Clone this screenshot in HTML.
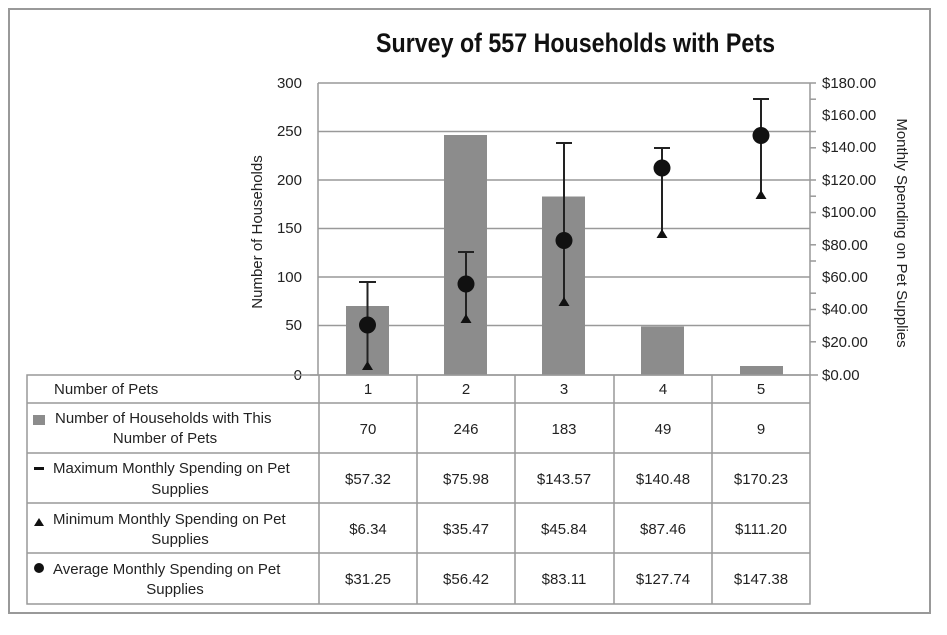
<!DOCTYPE html>
<html><head><meta charset="utf-8"><style>
body{margin:0;background:#fff}
svg text{font-family:"Liberation Sans",sans-serif;fill:#222}
</style></head><body>
<svg width="947" height="630" viewBox="0 0 947 630" xmlns="http://www.w3.org/2000/svg">
<rect x="0" y="0" width="947" height="630" fill="#fff"/>
<rect x="9" y="9" width="921" height="604" fill="none" stroke="#999" stroke-width="2"/>
<text x="376" y="52" textLength="399" lengthAdjust="spacingAndGlyphs" font-size="27" font-weight="bold" style="fill:#111">Survey of 557 Households with Pets</text>
<g stroke="#999" stroke-width="1.5">
<line x1="318" y1="83" x2="810" y2="83"/>
<line x1="318" y1="131.5" x2="810" y2="131.5"/>
<line x1="318" y1="180" x2="810" y2="180"/>
<line x1="318" y1="228.5" x2="810" y2="228.5"/>
<line x1="318" y1="277" x2="810" y2="277"/>
<line x1="318" y1="325.5" x2="810" y2="325.5"/>
<line x1="318" y1="83" x2="318" y2="375"/>
<line x1="810" y1="83" x2="810" y2="375"/>
<line x1="310" y1="375" x2="818" y2="375"/>
<line x1="810" y1="99.2" x2="816" y2="99.2"/><line x1="810" y1="131.5" x2="816" y2="131.5"/><line x1="810" y1="147.8" x2="816" y2="147.8"/><line x1="810" y1="180" x2="816" y2="180"/><line x1="810" y1="196.2" x2="816" y2="196.2"/><line x1="810" y1="212.5" x2="816" y2="212.5"/><line x1="810" y1="244.8" x2="816" y2="244.8"/><line x1="810" y1="261" x2="816" y2="261"/><line x1="810" y1="293.2" x2="816" y2="293.2"/><line x1="810" y1="309.5" x2="816" y2="309.5"/><line x1="810" y1="341.8" x2="816" y2="341.8"/><line x1="810" y1="83" x2="816" y2="83"/>
</g>
<g font-size="15" text-anchor="end">
<text x="302" y="88">300</text><text x="302" y="136">250</text><text x="302" y="185">200</text><text x="302" y="233">150</text><text x="302" y="282">100</text><text x="302" y="330">50</text><text x="302" y="380">0</text>
</g>
<g font-size="15">
<text x="822" y="88">$180.00</text><text x="822" y="120">$160.00</text><text x="822" y="152">$140.00</text><text x="822" y="185">$120.00</text><text x="822" y="217">$100.00</text><text x="822" y="250">$80.00</text><text x="822" y="282">$60.00</text><text x="822" y="314">$40.00</text><text x="822" y="347">$20.00</text><text x="822" y="380">$0.00</text>
</g>
<text transform="translate(262,232) rotate(-90)" text-anchor="middle" font-size="15">Number of Households</text>
<text transform="translate(897,233) rotate(90)" text-anchor="middle" font-size="15">Monthly Spending on Pet Supplies</text>
<g fill="#8c8c8c">
<rect x="346" y="306" width="43" height="69"/>
<rect x="444" y="135" width="43" height="240"/>
<rect x="542" y="196.5" width="43" height="178.5"/>
<rect x="641" y="326.5" width="43" height="48.5"/>
<rect x="740" y="366" width="43" height="9"/>
</g>
<g stroke="#222" stroke-width="2">
<line x1="367.5" y1="281" x2="367.5" y2="364"/><line x1="359" y1="282" x2="376" y2="282"/>
<line x1="466" y1="251" x2="466" y2="317"/><line x1="458" y1="252" x2="474" y2="252"/>
<line x1="564" y1="142" x2="564" y2="300"/><line x1="556" y1="143" x2="572" y2="143"/>
<line x1="662" y1="147" x2="662" y2="233"/><line x1="654" y1="148" x2="670" y2="148"/>
<line x1="761" y1="99" x2="761" y2="194"/><line x1="753" y1="99" x2="769" y2="99"/>
</g>
<g fill="#111">
<circle cx="367.5" cy="325" r="8.5"/><circle cx="466" cy="284" r="8.5"/><circle cx="564" cy="240.5" r="8.5"/><circle cx="662" cy="168" r="8.5"/><circle cx="761" cy="135.5" r="8.5"/>
<polygon points="367.5,361 362,370 373,370"/><polygon points="466,314 460.5,323 471.5,323"/><polygon points="564,297 558.5,306 569.5,306"/><polygon points="662,229 656.5,238 667.5,238"/><polygon points="761,190 755.5,199 766.5,199"/>
</g>
<g stroke="#999" stroke-width="1.5" fill="none">
<rect x="27" y="375" width="783" height="229"/>
<line x1="27" y1="403" x2="810" y2="403"/><line x1="27" y1="453" x2="810" y2="453"/><line x1="27" y1="503" x2="810" y2="503"/><line x1="27" y1="553" x2="810" y2="553"/>
<line x1="319" y1="375" x2="319" y2="604"/><line x1="417" y1="375" x2="417" y2="604"/><line x1="515" y1="375" x2="515" y2="604"/><line x1="614" y1="375" x2="614" y2="604"/><line x1="712" y1="375" x2="712" y2="604"/>
</g>
<g font-size="15">
<text x="54" y="394">Number of Pets</text>
<rect x="33" y="415" width="12" height="10" fill="#8c8c8c"/>
<text x="55" y="423">Number of Households with This</text><text x="165" y="443" text-anchor="middle">Number of Pets</text>
<rect x="34" y="467" width="10" height="3" fill="#111"/>
<text x="53" y="473">Maximum Monthly Spending on Pet</text><text x="180" y="494" text-anchor="middle">Supplies</text>
<polygon points="39,518 34,526 44,526" fill="#111"/>
<text x="53" y="524">Minimum Monthly Spending on Pet</text><text x="180" y="544" text-anchor="middle">Supplies</text>
<circle cx="39" cy="568" r="5" fill="#111"/>
<text x="53" y="574">Average Monthly Spending on Pet</text><text x="175" y="594" text-anchor="middle">Supplies</text>
</g>
<g font-size="15" text-anchor="middle">
<text x="368" y="394">1</text><text x="466" y="394">2</text><text x="564" y="394">3</text><text x="663" y="394">4</text><text x="761" y="394">5</text>
<text x="368" y="434">70</text><text x="466" y="434">246</text><text x="564" y="434">183</text><text x="663" y="434">49</text><text x="761" y="434">9</text>
<text x="368" y="484">$57.32</text><text x="466" y="484">$75.98</text><text x="564" y="484">$143.57</text><text x="663" y="484">$140.48</text><text x="761" y="484">$170.23</text>
<text x="368" y="534">$6.34</text><text x="466" y="534">$35.47</text><text x="564" y="534">$45.84</text><text x="663" y="534">$87.46</text><text x="761" y="534">$111.20</text>
<text x="368" y="584">$31.25</text><text x="466" y="584">$56.42</text><text x="564" y="584">$83.11</text><text x="663" y="584">$127.74</text><text x="761" y="584">$147.38</text>
</g>
</svg>
</body></html>
